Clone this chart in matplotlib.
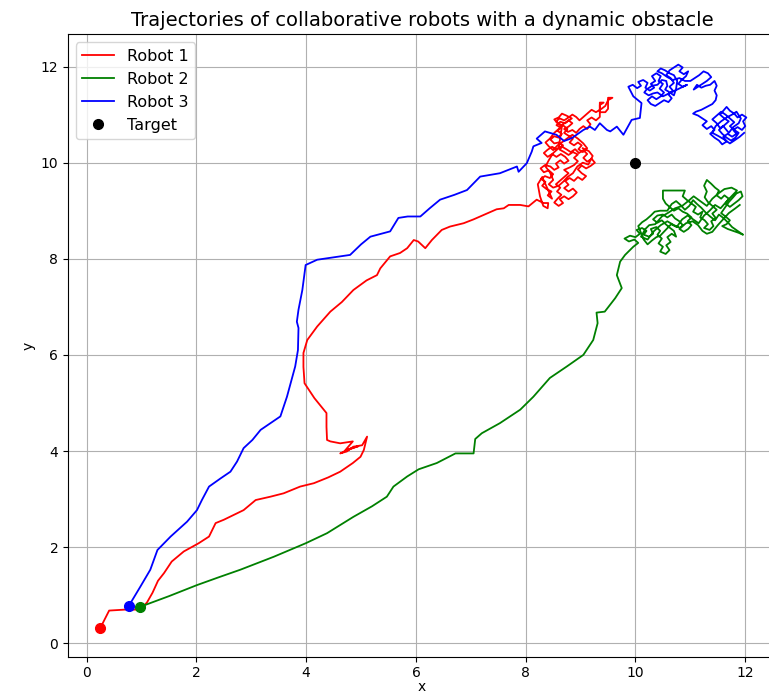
import numpy as np
import matplotlib.pyplot as plt

# Trajectory points (x, y)
robot1_path = [
    (0.25, 0.32), (0.41, 0.68), (0.70, 0.70), (0.98, 0.70), (1.10, 0.85), (1.20, 1.05),
    (1.30, 1.30), (1.41, 1.46), (1.55, 1.70), (1.77, 1.91), (2.04, 2.08), (2.23, 2.22),
    (2.35, 2.50), (2.50, 2.57), (2.68, 2.67), (2.86, 2.77), (3.08, 2.98), (3.35, 3.05),
    (3.59, 3.12), (3.89, 3.26), (4.14, 3.33), (4.40, 3.45), (4.62, 3.57), (4.85, 3.75),
    (4.99, 3.88), (5.05, 4.02), (5.11, 4.30), (5.02, 4.12), (4.86, 4.09), (4.74, 3.99),
    (4.62, 3.95), (4.80, 4.05), (4.95, 4.10), (4.70, 4.00), (4.85, 4.20), (4.62, 4.16),
    (4.44, 4.20), (4.38, 4.23), (4.37, 4.50), (4.37, 4.79), (4.15, 5.10), (3.97, 5.41),
    (3.95, 5.75), (3.95, 6.04), (4.02, 6.31), (4.20, 6.59), (4.44, 6.90), (4.65, 7.10),
    (4.86, 7.35), (5.10, 7.55), (5.29, 7.66), (5.35, 7.80), (5.53, 8.05), (5.71, 8.12),
    (5.84, 8.22), (5.96, 8.39), (6.04, 8.36), (6.17, 8.22), (6.29, 8.39), (6.47, 8.60),
    (6.62, 8.67), (6.87, 8.74), (7.05, 8.82), (7.23, 8.91), (7.47, 9.03), (7.60, 9.05),
    (7.69, 9.12), (7.90, 9.12), (8.05, 9.09), (8.20, 9.23), (8.32, 9.16), (8.41, 9.16),
    (8.40, 9.05), (8.32, 9.10), (8.26, 9.30), (8.22, 9.55), (8.30, 9.70),
    (8.48, 9.25), (8.40, 9.32), (8.47, 9.40), (8.38, 9.45), (8.30, 9.52), (8.36, 9.60),
    (8.28, 9.66), (8.35, 9.72), (8.44, 9.68), (8.50, 9.76), (8.42, 9.84), (8.33, 9.80),
    (8.27, 9.88), (8.35, 9.95), (8.45, 9.92), (8.52, 9.85), (8.60, 9.90), (8.55, 9.98),
    (8.63, 10.05), (8.70, 9.98), (8.78, 10.04), (8.72, 10.12), (8.64, 10.18), (8.56, 10.12),
    (8.48, 10.18), (8.40, 10.12), (8.33, 10.20), (8.40, 10.27), (8.48, 10.33), (8.56, 10.28),
    (8.65, 10.34), (8.74, 10.28), (8.82, 10.22), (8.90, 10.28), (8.97, 10.20), (9.05, 10.26),
    (9.12, 10.18), (9.05, 10.10), (9.12, 10.02), (9.20, 10.08), (9.26, 10.00), (9.18, 9.93),
    (9.10, 9.88), (9.02, 9.94), (8.95, 9.86), (9.02, 9.78), (9.10, 9.72), (9.03, 9.64),
    (8.95, 9.70), (8.88, 9.62), (8.80, 9.68), (8.72, 9.62), (8.78, 9.54), (8.70, 9.47),
    (8.78, 9.40), (8.86, 9.46), (8.93, 9.38), (8.86, 9.30), (8.78, 9.24), (8.70, 9.30),
    (8.62, 9.24), (8.68, 9.16), (8.60, 9.10), (8.52, 9.17), (8.58, 9.25), (8.65, 9.33),
    (8.57, 9.40), (8.63, 9.48), (8.55, 9.55), (8.62, 9.62), (8.70, 9.70), (8.78, 9.78),
    (8.70, 9.85), (8.80, 9.90), (8.88, 9.95), (8.95, 10.03), (8.88, 10.10), (8.95, 10.17),
    (8.86, 10.22), (8.78, 10.16), (8.70, 10.22), (8.62, 10.27), (8.68, 10.36), (8.60, 10.42),
    (8.52, 10.40), (8.45, 10.48), (8.52, 10.55), (8.60, 10.52), (8.66, 10.60), (8.58, 10.66),
    (8.64, 10.73), (8.56, 10.78), (8.63, 10.85), (8.72, 10.82), (8.78, 10.88), (8.85, 10.82),
    (8.78, 10.75), (8.70, 10.70), (8.77, 10.64), (8.85, 10.68), (8.92, 10.62), (8.98, 10.70),
    (9.05, 10.76), (9.12, 10.70), (9.18, 10.80), (9.12, 10.88), (9.20, 10.94), (9.28, 10.88),
    (9.35, 10.95), (9.35, 11.10), (9.35, 11.25), (9.42, 11.25), (9.35, 11.20), (9.35, 11.05),
    (9.45, 11.05), (9.50, 11.12), (9.50, 11.25), (9.50, 11.35), (9.58, 11.35), (9.50, 11.30),
    (9.45, 11.18), (9.38, 11.12), (9.28, 11.05), (9.20, 11.10), (9.12, 11.02), (9.05, 10.95),
    (8.98, 10.88), (8.92, 10.95), (8.85, 11.00), (8.78, 10.94), (8.70, 10.88), (8.62, 10.92),
    (8.55, 10.86), (8.62, 10.80), (8.70, 10.76), (8.76, 10.70), (8.70, 10.62), (8.78, 10.56),
    (8.86, 10.50), (8.80, 10.42), (8.88, 10.36), (8.95, 10.42), (9.02, 10.36), (8.96, 10.28),
    (9.04, 10.22), (9.12, 10.30), (9.05, 10.40), (8.95, 10.50), (8.85, 10.58), (8.75, 10.50),
    (8.68, 10.44), (8.58, 10.36), (8.50, 10.26), (8.42, 10.34), (8.36, 10.42), (8.44, 10.50),
    (8.52, 10.62), (8.60, 10.70), (8.68, 10.80), (8.76, 10.86), (8.84, 10.92), (8.74, 10.98),
    (8.66, 11.02), (8.60, 10.94), (8.52, 10.90), (8.58, 10.82), (8.66, 10.76), (8.60, 10.30),
    (8.50, 10.20), (8.42, 10.05), (8.36, 9.92), (8.44, 9.80), (8.50, 9.64), (8.42, 9.55),
    (8.50, 9.48), (8.60, 9.52), (8.68, 9.60), (8.76, 9.70), (8.86, 9.78), (8.94, 9.92),
    (9.04, 10.00), (9.14, 9.96), (9.22, 10.14), (9.15, 10.24), (9.04, 10.30),
]

robot2_path = [
    (0.98, 0.76), (1.50, 0.98), (2.01, 1.21), (2.40, 1.37), (2.80, 1.53), (3.41, 1.80),
    (3.99, 2.08), (4.38, 2.29), (4.86, 2.63), (5.20, 2.85), (5.47, 3.05), (5.59, 3.26),
    (5.84, 3.47), (6.05, 3.62), (6.38, 3.75), (6.72, 3.95), (7.05, 3.95), (7.08, 4.25),
    (7.20, 4.37), (7.53, 4.58), (7.90, 4.86), (8.14, 5.13), (8.44, 5.52), (8.75, 5.76),
    (9.05, 6.00), (9.23, 6.31), (9.31, 6.66), (9.29, 6.88), (9.44, 6.90), (9.63, 7.18),
    (9.75, 7.39), (9.66, 7.66), (9.72, 7.94), (9.81, 8.08), (9.96, 8.25), (10.05, 8.33),
    (9.98, 8.40), (9.88, 8.36), (9.80, 8.42), (9.90, 8.48), (10.00, 8.45), (10.08, 8.52),
    (10.02, 8.60), (10.12, 8.64), (10.20, 8.58), (10.15, 8.50), (10.25, 8.46), (10.32, 8.52),
    (10.28, 8.62), (10.38, 8.66), (10.45, 8.58), (10.40, 8.50), (10.48, 8.42), (10.42, 8.32),
    (10.50, 8.25), (10.45, 8.15), (10.55, 8.10), (10.62, 8.18), (10.56, 8.28), (10.64, 8.35),
    (10.58, 8.45), (10.66, 8.52), (10.74, 8.46), (10.70, 8.58), (10.62, 8.65), (10.55, 8.72),
    (10.48, 8.80), (10.40, 8.75), (10.32, 8.82), (10.40, 8.90), (10.50, 8.92), (10.58, 8.86),
    (10.66, 8.92), (10.72, 8.84), (10.80, 8.78), (10.86, 8.70), (10.80, 8.62), (10.88, 8.56),
    (10.96, 8.62), (11.02, 8.70), (10.95, 8.78), (11.02, 8.86), (10.94, 8.94), (10.86, 8.98),
    (10.78, 9.05), (10.70, 9.00), (10.62, 9.08), (10.55, 9.15), (10.50, 9.25), (10.50, 9.42),
    (10.70, 9.42), (10.90, 9.42), (10.86, 9.30), (10.94, 9.22), (11.02, 9.15), (11.10, 9.08),
    (11.05, 8.98), (11.14, 8.92), (11.22, 8.98), (11.18, 8.86), (11.26, 8.80), (11.32, 8.72),
    (11.25, 8.64), (11.35, 8.60), (11.42, 8.68), (11.38, 8.78), (11.46, 8.85), (11.40, 8.94),
    (11.48, 9.02), (11.40, 9.10), (11.32, 9.18), (11.26, 9.28), (11.30, 9.40), (11.25, 9.52),
    (11.30, 9.64), (11.38, 9.56), (11.45, 9.48), (11.52, 9.42), (11.48, 9.32), (11.56, 9.25),
    (11.62, 9.32), (11.70, 9.25), (11.64, 9.15), (11.72, 9.08), (11.80, 9.15), (11.88, 9.22),
    (11.95, 9.30), (11.92, 9.40), (11.84, 9.36), (11.78, 9.28), (11.70, 9.18), (11.62, 9.05),
    (11.56, 8.95), (11.64, 8.88), (11.72, 8.80), (11.66, 8.72), (11.58, 8.68), (11.68, 8.62),
    (11.78, 8.58), (11.88, 8.54), (11.96, 8.50), (11.86, 8.58), (11.76, 8.66), (11.68, 8.76),
    (11.60, 8.85), (11.52, 8.92), (11.45, 8.80), (11.36, 8.88), (11.28, 8.96), (11.20, 9.06),
    (11.12, 9.14), (11.05, 9.22), (10.98, 9.10), (10.90, 9.02), (10.82, 9.12), (10.74, 9.20),
    (10.66, 9.14), (10.58, 9.00), (10.45, 9.00), (10.35, 8.98), (10.28, 8.90), (10.20, 8.82),
    (10.12, 8.76), (10.05, 8.68), (10.15, 8.40), (10.22, 8.30), (10.30, 8.38), (10.38, 8.45),
    (10.45, 8.48), (10.55, 8.60), (10.65, 8.72), (10.75, 8.66), (10.85, 8.82), (10.95, 8.90),
    (11.05, 8.82), (11.15, 8.74), (11.25, 8.90), (11.35, 9.00), (11.45, 9.12), (11.55, 9.05),
    (11.65, 9.18), (11.75, 9.30), (11.85, 9.42), (11.75, 9.48), (11.62, 9.45), (11.50, 9.35),
    (11.40, 9.25), (11.30, 9.10), (11.18, 9.20), (11.06, 9.30), (10.96, 9.20), (10.85, 9.10),
    (10.72, 9.05), (10.60, 8.96), (10.48, 8.88), (10.36, 8.72), (10.25, 8.70), (10.18, 8.62),
    (10.10, 8.46), (10.22, 8.40), (10.34, 8.58), (10.46, 8.70), (10.58, 8.78), (10.70, 8.70),
    (10.82, 8.64), (10.92, 8.74), (11.04, 8.78), (11.14, 8.70), (11.22, 8.58), (11.30, 8.52),
    (11.40, 8.56), (11.50, 8.70), (11.58, 8.80), (11.70, 8.95), (11.82, 9.05), (11.90, 9.12),
]

robot3_path = [
    (0.77, 0.78), (0.98, 1.18), (1.16, 1.53), (1.29, 1.94), (1.53, 2.22), (1.83, 2.53),
    (2.01, 2.77), (2.10, 2.98), (2.23, 3.26), (2.44, 3.43), (2.62, 3.57), (2.74, 3.78),
    (2.86, 4.06), (3.02, 4.23), (3.17, 4.44), (3.35, 4.58), (3.53, 4.72), (3.65, 5.13),
    (3.71, 5.38), (3.80, 5.76), (3.85, 6.10), (3.86, 6.56), (3.83, 6.69), (3.86, 6.94),
    (3.93, 7.35), (3.99, 7.87), (4.20, 7.98), (4.50, 8.03), (4.80, 8.08), (5.00, 8.30),
    (5.17, 8.46), (5.53, 8.57), (5.68, 8.85), (5.85, 8.88), (6.08, 8.88), (6.25, 9.05),
    (6.44, 9.23), (6.70, 9.33), (6.93, 9.43), (7.17, 9.71), (7.53, 9.78), (7.84, 9.92),
    (7.87, 9.81), (8.02, 9.99), (8.11, 10.23), (8.14, 10.34), (8.29, 10.41), (8.20, 10.50),
    (8.35, 10.65), (8.56, 10.58), (8.70, 10.45), (8.84, 10.51), (9.05, 10.68), (9.17, 10.75),
    (9.26, 10.68), (9.35, 10.82), (9.48, 10.68), (9.54, 10.65), (9.66, 10.75), (9.78, 10.58),
    (9.93, 10.89), (10.08, 10.93), (10.11, 11.24), (9.96, 11.38), (9.87, 11.58), (9.95, 11.62),
    (10.03, 11.55), (10.10, 11.60), (10.05, 11.68), (10.14, 11.72), (10.22, 11.66), (10.18, 11.56),
    (10.26, 11.50), (10.34, 11.56), (10.28, 11.64), (10.36, 11.70), (10.30, 11.80), (10.38, 11.86),
    (10.46, 11.80), (10.42, 11.70), (10.50, 11.64), (10.44, 11.54), (10.52, 11.46), (10.46, 11.38),
    (10.38, 11.32), (10.30, 11.38), (10.22, 11.30), (10.28, 11.22), (10.36, 11.18), (10.44, 11.24),
    (10.52, 11.30), (10.60, 11.26), (10.66, 11.34), (10.60, 11.42), (10.68, 11.50), (10.62, 11.58),
    (10.70, 11.66), (10.64, 11.76), (10.56, 11.82), (10.62, 11.92), (10.70, 11.98), (10.78, 12.04),
    (10.86, 11.98), (10.80, 11.90), (10.88, 11.84), (10.96, 11.90), (10.92, 11.80), (10.84, 11.72),
    (10.78, 11.64), (10.86, 11.58), (10.94, 11.62), (10.50, 11.38), (10.40, 11.46), (10.32, 11.44),
    (10.24, 11.40), (10.16, 11.46), (10.20, 11.52), (10.30, 11.60), (10.40, 11.62), (10.48, 11.72),
    (10.56, 11.70), (10.58, 11.60), (10.54, 11.52), (10.60, 11.48), (10.70, 11.40), (10.74, 11.54),
    (10.76, 11.70), (10.70, 11.82), (10.62, 11.86), (10.54, 11.92), (10.46, 11.96), (10.40, 11.90),
    (10.48, 11.86), (10.58, 11.78), (10.68, 11.72), (10.80, 11.76), (10.90, 11.70),
    (11.00, 11.70), (11.08, 11.76), (11.16, 11.82),
    (11.24, 11.90), (11.32, 11.86), (11.38, 11.78), (11.30, 11.70), (11.22, 11.64), (11.14, 11.58),
    (11.06, 11.52), (11.12, 11.62), (11.20, 11.56), (11.28, 11.60), (11.36, 11.62), (11.44, 11.70),
    (11.48, 11.60), (11.44, 11.50), (11.48, 11.40), (11.46, 11.30), (11.40, 11.22), (11.30, 11.16),
    (11.20, 11.10), (11.10, 11.06), (11.05, 11.02), (11.14, 10.98), (11.22, 10.92), (11.30, 10.86),
    (11.22, 10.78), (11.30, 10.70), (11.38, 10.76), (11.44, 10.68), (11.36, 10.60), (11.44, 10.52),
    (11.52, 10.46), (11.58, 10.38), (11.66, 10.44), (11.60, 10.54), (11.68, 10.60), (11.76, 10.54),
    (11.84, 10.60), (11.78, 10.68), (11.86, 10.74), (11.94, 10.68), (12.00, 10.76), (11.96, 10.86),
    (12.02, 10.94), (11.94, 11.00), (11.86, 10.94), (11.80, 11.02), (11.72, 11.08), (11.66, 11.16),
    (11.60, 11.08), (11.54, 11.00), (11.62, 10.92), (11.70, 10.86), (11.62, 10.78), (11.54, 10.72),
    (11.48, 10.82), (11.40, 10.90), (11.48, 10.98), (11.56, 11.06), (11.64, 11.00), (11.72, 10.92),
    (11.80, 10.84), (11.72, 10.76), (11.80, 10.68), (11.88, 10.62), (11.82, 10.52), (11.74, 10.46),
    (11.66, 10.52), (11.58, 10.60), (11.52, 10.68), (11.60, 10.76), (11.70, 10.62), (11.78, 10.74),
    (11.88, 10.82), (11.92, 10.92), (11.84, 11.06), (11.76, 11.00), (11.66, 10.94), (11.56, 10.86),
    (11.46, 10.76), (11.40, 10.62), (11.50, 10.56), (11.62, 10.48), (11.72, 10.40), (11.80, 10.46),
    (11.90, 10.54), (11.98, 10.62),
]

target = (10, 10)

fig = plt.figure(figsize=(7.69, 6.95), dpi=100)
ax = fig.add_axes([0.0884, 0.0551, 0.9207, 0.8955])

paths = [robot1_path, robot2_path, robot3_path]
colors = ["red", "green", "blue"]
for i, (path, c) in enumerate(zip(paths, colors)):
    xy = np.array(path)
    ax.plot(xy[:, 0], xy[:, 1], color=c, lw=1.3, label=f"Robot {i + 1}")
    ax.plot(xy[0, 0], xy[0, 1], "o", color=c, ms=7)

ax.plot(target[0], target[1], "o", color="black", ms=7, label="Target")

ax.set_xlim(-0.34, 12.56)
ax.set_ylim(-0.28, 12.67)
ax.set_title("Trajectories of collaborative robots with a dynamic obstacle", fontsize=14)
ax.set_xlabel("x", labelpad=0)
ax.set_ylabel("y")
ax.legend(loc="upper left", fontsize=11.5)
ax.grid(True)

fig.savefig("out.png", dpi=100)
